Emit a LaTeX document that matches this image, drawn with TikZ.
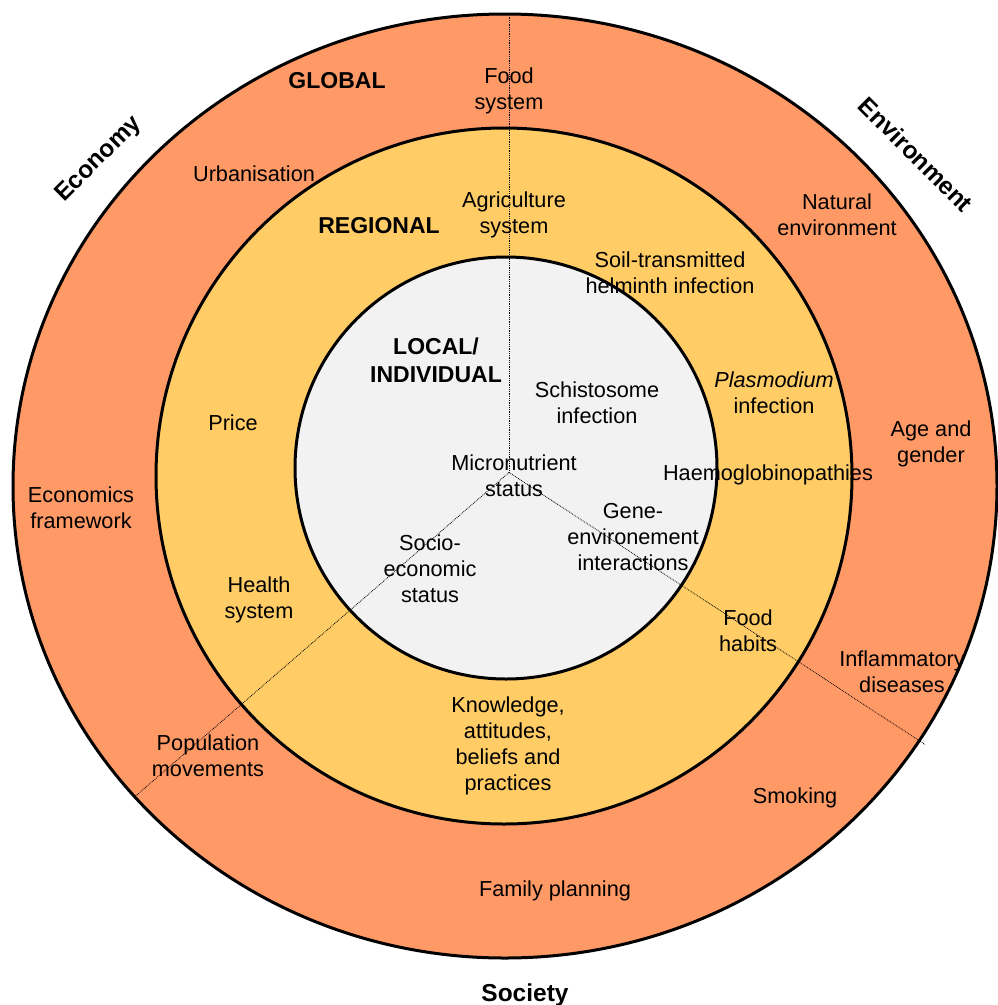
\documentclass[tikz,border=0pt]{standalone}
\usepackage{fontspec}
\setmainfont{Liberation Sans}
\usepackage{tikz}
\usetikzlibrary{positioning}

\definecolor{globalc}{RGB}{255,153,102}
\definecolor{regionalc}{RGB}{255,204,102}
\definecolor{localc}{RGB}{242,242,242}

\begin{document}
\begin{tikzpicture}
  [
  x=1pt, y=-1pt,
  % 文字の設定
  every node/.style={inner sep=0, outer sep=0, align=center, yshift=-2.5pt,
  font=\fontsize{21.7}{26}\selectfont},
  % 輪
  ring/.style={draw, line width=3pt},
  % 階層名
  level/.style={font=\fontsize{23}{28}\selectfont\bfseries},
  % 分野名
  field/.style={font=\fontsize{24.5}{29}\selectfont\bfseries},
  % 区切り線
  spoke/.style={densely dotted, line width=0.8pt}
  ]
  \useasboundingbox (0,0) rectangle (998,1005);
  % 輪
  \filldraw [ring, fill=globalc] (505,486) ellipse [x radius=492pt, y radius=472pt];
  \filldraw [ring, fill=regionalc] (504,476) circle [radius=348pt];
  \filldraw [ring, fill=localc] (506,468) circle [radius=211pt];
  % 区切り線
  \coordinate (c) at (509,470);
  \coordinate (top) at (509,14);
  \coordinate (left) at (135,794);
  \coordinate (right) at (925,742);
  \draw [spoke] (c) -- (top);
  \draw [spoke] (c) -- (left);
  \draw [spoke] (c) -- (right);
  % 分野
  \node [field, rotate=45] (economy) at (99,157) {Economy};
  \node [field, rotate=-45] (environment) at (916,152) {Environment};
  \node [field] (society) at (525,993) {Society};
  % 階層
  \node [level] (global) at (337,78) {GLOBAL};
  \node [level] (regional) at (379,223) {REGIONAL};
  \node [level] (local) at (436,358) {LOCAL/\\INDIVIDUAL};
  % GLOBAL
  \node (foodsys) at (509,88) {Food\\system};
  \node (urban) at (254,171) {Urbanisation};
  \node (natural) at (837,212) {Natural\\environment};
  \node (age) at (931,441) {Age and\\gender};
  \node (econ) at (81,505) {Economics\\framework};
  \node (inflam) at (902,669) {Inflammatory\\diseases};
  \node (popmove) at (208,753) {Population\\movements};
  \node (smoking) at (795,795) {Smoking};
  \node (family) at (555,888) {Family planning};
  % REGIONAL
  \node (agri) at (514,212) {Agriculture\\system};
  \node (soil) at (670,270) {Soil-transmitted\\helminth infection};
  \node (plasmo) at (774,390) {\textit{Plasmodium}\\infection};
  \node (price) at (233,420) {Price};
  \node (haemo) at (768,472) {Haemoglobinopathies};
  \node (health) at (259,597) {Health\\system};
  \node (foodhab) at (748,628) {Food\\habits};
  \node (kabp) at (508,743) {Knowledge,\\attitudes,\\beliefs and\\practices};
  % LOCAL/INDIVIDUAL
  \node (schisto) at (597,400) {Schistosome\\infection};
  \node (micro) at (514,473) {Micronutrient\\status};
  \node (gene) at (633,535) {Gene-\\environement\\interactions};
  \node (socio) at (430,566) {Socio-\\economic\\status};
\end{tikzpicture}
\end{document}
